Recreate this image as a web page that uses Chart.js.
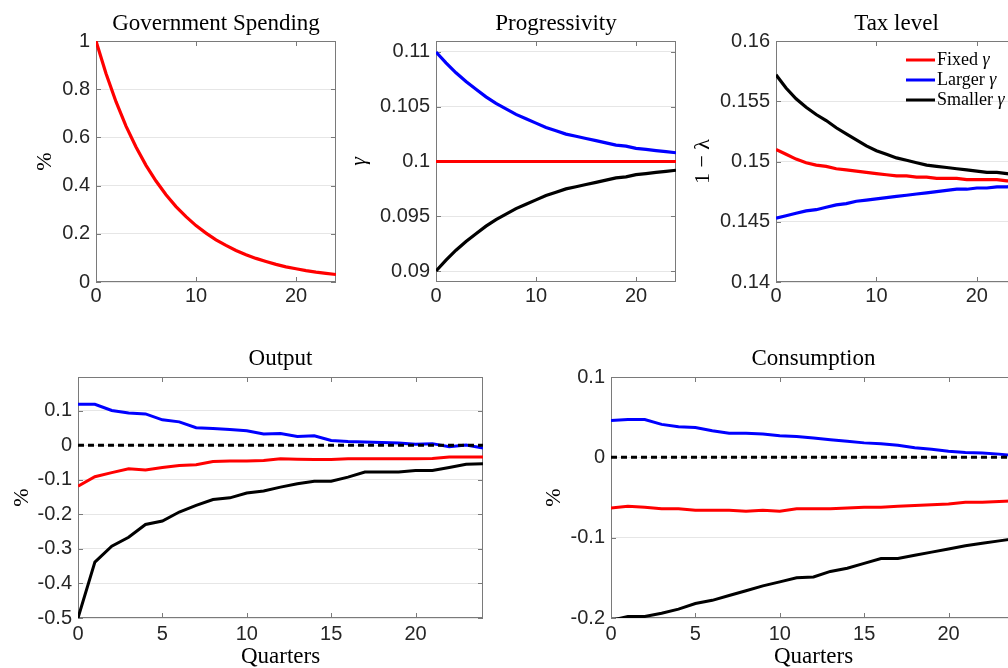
<!DOCTYPE html>
<html>
<head>
<meta charset="utf-8">
<title>Fiscal shock responses</title>
<script src="https://cdn.jsdelivr.net/npm/chart.js@4.4.1/dist/chart.umd.min.js"></script>
<style>
  html, body { margin: 0; padding: 0; background: #fff; width: 1008px; height: 668px; overflow: hidden; }
  .panel { position: absolute; }
</style>
</head>
<body>
<div class="panel" style="left:0px;top:0px"><canvas id="gov" width="350" height="310"></canvas></div>
<div class="panel" style="left:340px;top:0px"><canvas id="prog" width="350" height="310"></canvas></div>
<div class="panel" style="left:680px;top:0px"><canvas id="tax" width="350" height="310"></canvas></div>
<div class="panel" style="left:0px;top:335px"><canvas id="output" width="500" height="333"></canvas></div>
<div class="panel" style="left:533px;top:335px"><canvas id="cons" width="500" height="333"></canvas></div>
<script>
// horizon in quarters
const quarters = [0, 1, 2, 3, 4, 5, 6, 7, 8, 9, 10, 11, 12, 13, 14, 15, 16, 17, 18, 19, 20, 21, 22, 23, 24];
const seriesNames = ["Fixed γ", "Larger γ", "Smaller γ"];

// government spending shock
const govSpending = [1.000, 0.865, 0.748, 0.647, 0.560, 0.484, 0.419, 0.362, 0.313, 0.271, 0.234, 0.203, 0.175,
  0.152, 0.131, 0.113, 0.098, 0.085, 0.073, 0.063, 0.055, 0.047, 0.041, 0.036, 0.031];

// progressivity gamma
const gammaFixed = [0.1, 0.1, 0.1, 0.1, 0.1, 0.1, 0.1, 0.1, 0.1, 0.1, 0.1, 0.1, 0.1,
  0.1, 0.1, 0.1, 0.1, 0.1, 0.1, 0.1, 0.1, 0.1, 0.1, 0.1, 0.1];
const gammaLarger = [0.1100, 0.1090, 0.1081, 0.1073, 0.1066, 0.1059, 0.1053, 0.1048, 0.1043, 0.1039, 0.1035, 0.1031, 0.1028,
  0.1025, 0.1023, 0.1021, 0.1019, 0.1017, 0.1015, 0.1014, 0.1012, 0.1011, 0.1010, 0.1009, 0.1008];
const gammaSmaller = [0.0900, 0.0910, 0.0919, 0.0927, 0.0934, 0.0941, 0.0947, 0.0952, 0.0957, 0.0961, 0.0965, 0.0969, 0.0972,
  0.0975, 0.0977, 0.0979, 0.0981, 0.0983, 0.0985, 0.0986, 0.0988, 0.0989, 0.0990, 0.0991, 0.0992];

// tax level 1 - lambda
const taxFixed = [0.1510, 0.1506, 0.1502, 0.1499, 0.1497, 0.1496, 0.1494, 0.1493, 0.1492, 0.1491, 0.1490, 0.1489, 0.1488,
  0.1488, 0.1487, 0.1487, 0.1486, 0.1486, 0.1486, 0.1485, 0.1485, 0.1485, 0.1485, 0.1484, 0.1484];
const taxLarger = [0.1453, 0.1455, 0.1457, 0.1459, 0.1460, 0.1462, 0.1464, 0.1465, 0.1467, 0.1468, 0.1469, 0.1470, 0.1471,
  0.1472, 0.1473, 0.1474, 0.1475, 0.1476, 0.1477, 0.1477, 0.1478, 0.1478, 0.1479, 0.1479, 0.1480];
const taxSmaller = [0.1572, 0.1561, 0.1552, 0.1545, 0.1539, 0.1534, 0.1528, 0.1523, 0.1518, 0.1513, 0.1509, 0.1506, 0.1503,
  0.1501, 0.1499, 0.1497, 0.1496, 0.1495, 0.1494, 0.1493, 0.1492, 0.1491, 0.1491, 0.1490, 0.1489];

// output, % deviation
const outputFixed = [-0.118, -0.091, -0.079, -0.068, -0.071, -0.064, -0.058, -0.056, -0.047, -0.045, -0.045, -0.044, -0.039,
  -0.040, -0.041, -0.041, -0.039, -0.039, -0.039, -0.039, -0.039, -0.038, -0.034, -0.034, -0.034];
const outputLarger = [0.119, 0.119, 0.101, 0.094, 0.091, 0.074, 0.068, 0.051, 0.049, 0.046, 0.042, 0.033, 0.034,
  0.026, 0.028, 0.014, 0.011, 0.010, 0.008, 0.007, 0.003, 0.005, -0.004, 0.001, -0.008];
const outputSmaller = [-0.500, -0.338, -0.292, -0.266, -0.229, -0.219, -0.193, -0.174, -0.157, -0.152, -0.138, -0.132, -0.121,
  -0.111, -0.104, -0.104, -0.092, -0.077, -0.077, -0.077, -0.073, -0.073, -0.064, -0.055, -0.053];

// consumption, % deviation
const consFixed = [-0.063, -0.061, -0.062, -0.064, -0.064, -0.066, -0.066, -0.066, -0.067, -0.066, -0.067, -0.064, -0.064,
  -0.064, -0.063, -0.062, -0.062, -0.061, -0.060, -0.059, -0.058, -0.056, -0.056, -0.055, -0.054];
const consLarger = [0.046, 0.047, 0.047, 0.041, 0.038, 0.037, 0.033, 0.030, 0.030, 0.029, 0.027, 0.026, 0.024,
  0.022, 0.020, 0.018, 0.017, 0.015, 0.012, 0.010, 0.0075, 0.006, 0.0055, 0.004, 0.002];
const consSmaller = [-0.203, -0.198, -0.198, -0.194, -0.189, -0.182, -0.178, -0.172, -0.166, -0.160, -0.155, -0.150, -0.149,
  -0.142, -0.138, -0.132, -0.126, -0.126, -0.122, -0.118, -0.114, -0.110, -0.107, -0.104, -0.101];

// tick values and labels
const topXTicks = [0, 10, 20];
const bottomXTicks = [0, 5, 10, 15, 20];
const govTicks = [0, 0.2, 0.4, 0.6, 0.8, 1];
const govTickLabels = ["0", "0.2", "0.4", "0.6", "0.8", "1"];
const gammaTicks = [0.09, 0.095, 0.1, 0.105, 0.11];
const gammaTickLabels = ["0.09", "0.095", "0.1", "0.105", "0.11"];
const taxTicks = [0.14, 0.145, 0.15, 0.155, 0.16];
const taxTickLabels = ["0.14", "0.145", "0.15", "0.155", "0.16"];
const outputTicks = [-0.5, -0.4, -0.3, -0.2, -0.1, 0, 0.1];
const outputTickLabels = ["-0.5", "-0.4", "-0.3", "-0.2", "-0.1", "0", "0.1"];
const consTicks = [-0.2, -0.1, 0, 0.1];
const consTickLabels = ["-0.2", "-0.1", "0", "0.1"];

const RED = "#ff0000", BLUE = "#0000ff", BLACK = "#000000";
const SERIF = '"Liberation Serif", "Times New Roman", serif';
const SANS = '"Liberation Sans", Arial, Helvetica, sans-serif';

function line(label, values, color, width, order) {
  return { label: label, data: values, borderColor: color, borderWidth: width, order: order,
           pointRadius: 0, tension: 0, fill: false };
}

function zeroLine() {
  const first = quarters[0], last = quarters[quarters.length - 1];
  return { label: "zero", data: [{ x: first, y: 0 }, { x: last, y: 0 }], borderColor: BLACK,
           borderWidth: 3, borderDash: [6, 4], pointRadius: 0, order: 0 };
}

// axes box with inward tick marks, drawn under the lines
const axesBox = {
  id: "axesBox",
  beforeDatasetsDraw(chart) {
    const { ctx, chartArea: a, scales: { x, y } } = chart;
    ctx.save();
    ctx.strokeStyle = "#7a7a7a";
    ctx.lineWidth = 1;
    ctx.strokeRect(a.left + 0.5, a.top + 0.5, a.width - 1, a.height - 1);
    ctx.beginPath();
    x.ticks.forEach(t => {
      const px = Math.round(x.getPixelForValue(t.value)) + 0.5;
      ctx.moveTo(px, a.bottom); ctx.lineTo(px, a.bottom - 5);
      ctx.moveTo(px, a.top); ctx.lineTo(px, a.top + 5);
    });
    y.ticks.forEach(t => {
      const py = Math.round(y.getPixelForValue(t.value)) + 0.5;
      ctx.moveTo(a.left, py); ctx.lineTo(a.left + 5, py);
      ctx.moveTo(a.right, py); ctx.lineTo(a.right - 5, py);
    });
    ctx.stroke();
    ctx.restore();
  }
};

// legend inside the tax panel, gamma set in italic
const insideLegend = {
  id: "insideLegend",
  afterDatasetsDraw(chart) {
    const { ctx, chartArea: a } = chart;
    ctx.save();
    chart.data.datasets.forEach((ds, i) => {
      const y = a.top + 19 + i * 20;
      const x0 = a.left + 130;
      ctx.strokeStyle = ds.borderColor;
      ctx.lineWidth = 3;
      ctx.beginPath(); ctx.moveTo(x0, y); ctx.lineTo(x0 + 29, y); ctx.stroke();
      const parts = ds.label.split(" ");
      ctx.fillStyle = "#000";
      ctx.textBaseline = "middle";
      ctx.font = "18px " + SERIF;
      ctx.fillText(parts[0] + " ", x0 + 31, y);
      const w = ctx.measureText(parts[0] + " ").width;
      ctx.font = "italic 18px " + SERIF;
      ctx.fillText(parts[1], x0 + 31 + w, y);
    });
    ctx.restore();
  }
};

function makePanel(id, c) {
  return new Chart(document.getElementById(id), {
    type: "line",
    data: { labels: quarters, datasets: c.datasets },
    options: {
      responsive: false,
      animation: false,
      events: [],
      layout: { padding: { left: 0, right: c.padRight, top: 0, bottom: 0 } },
      plugins: {
        legend: { display: false },
        tooltip: { enabled: false },
        title: {
          display: true, text: c.title, fullSize: false, color: "#000",
          font: { family: SERIF, size: 23, weight: "normal" },
          padding: { top: c.titleTop, bottom: c.titleBottom }
        }
      },
      scales: {
        x: {
          type: "linear", min: 0, max: 24,
          grid: { display: false, drawTicks: false },
          border: { display: false },
          afterBuildTicks: s => { s.ticks = c.xTicks.map(v => ({ value: v })); },
          afterFit: s => { s.height = c.xHeight; },
          ticks: { color: "#262626", font: { family: SANS, size: 20 }, padding: c.xPad,
                   maxRotation: 0, autoSkip: false },
          title: c.xTitle
            ? { display: true, text: c.xTitle, color: "#000",
                font: { family: SERIF, size: 23, lineHeight: 1 }, padding: { top: 0, bottom: 0 } }
            : { display: false }
        },
        y: {
          min: c.yMin, max: c.yMax,
          grid: { color: "#e6e6e6", lineWidth: 1, drawTicks: false },
          border: { display: false },
          afterBuildTicks: s => { s.ticks = c.yTicks.map(v => ({ value: v })); },
          afterFit: s => { s.width = c.yWidth; },
          ticks: { color: "#262626", font: { family: SANS, size: 20 }, padding: 6, autoSkip: false,
                   callback: (v, i) => c.yLabels[i] },
          title: { display: true, text: c.yTitle, color: "#000",
                   font: { family: SERIF, size: 22, style: c.yTitleStyle || "normal" },
                   padding: { top: c.yTitlePad, bottom: 0 } }
        }
      }
    },
    plugins: c.legend ? [axesBox, insideLegend] : [axesBox]
  });
}

const topPanel = { padRight: 14, titleTop: 10, titleBottom: 3.4, xHeight: 28, xPad: 2, xTicks: topXTicks, yWidth: 96 };
const bottomPanel = { padRight: 17, titleTop: 10, titleBottom: 4.4, xHeight: 50, xPad: 4, xTicks: bottomXTicks,
                      xTitle: "Quarters", yWidth: 78, yTitlePad: 9 };

makePanel("gov", Object.assign({}, topPanel, {
  title: "Government Spending", yTitle: "%", yTitlePad: 32,
  yMin: 0, yMax: 1, yTicks: govTicks, yLabels: govTickLabels,
  datasets: [line("G", govSpending, RED, 3.2, 1)]
}));

makePanel("prog", Object.assign({}, topPanel, {
  title: "Progressivity", yTitle: "γ", yTitleStyle: "italic", yTitlePad: 6,
  yMin: 0.089, yMax: 0.111, yTicks: gammaTicks, yLabels: gammaTickLabels,
  datasets: [line(seriesNames[0], gammaFixed, RED, 3.2, 3),
             line(seriesNames[1], gammaLarger, BLUE, 3.2, 2),
             line(seriesNames[2], gammaSmaller, BLACK, 3.2, 1)]
}));

makePanel("tax", Object.assign({}, topPanel, {
  title: "Tax level", yTitle: "1 − λ", yTitlePad: 10, padRight: 13, legend: true,
  yMin: 0.14, yMax: 0.16, yTicks: taxTicks, yLabels: taxTickLabels,
  datasets: [line(seriesNames[0], taxFixed, RED, 3.2, 3),
             line(seriesNames[1], taxLarger, BLUE, 3.2, 2),
             line(seriesNames[2], taxSmaller, BLACK, 3.2, 1)]
}));

makePanel("output", Object.assign({}, bottomPanel, {
  title: "Output", yTitle: "%",
  yMin: -0.5, yMax: 0.198, yTicks: outputTicks, yLabels: outputTickLabels,
  datasets: [zeroLine(),
             line(seriesNames[0], outputFixed, RED, 3, 3),
             line(seriesNames[1], outputLarger, BLUE, 3, 2),
             line(seriesNames[2], outputSmaller, BLACK, 3, 1)]
}));

makePanel("cons", Object.assign({}, bottomPanel, {
  title: "Consumption", yTitle: "%", yTitlePad: 8,
  yMin: -0.2, yMax: 0.1, yTicks: consTicks, yLabels: consTickLabels,
  datasets: [zeroLine(),
             line(seriesNames[0], consFixed, RED, 3, 3),
             line(seriesNames[1], consLarger, BLUE, 3, 2),
             line(seriesNames[2], consSmaller, BLACK, 3, 1)]
}));
</script>
</body>
</html>
